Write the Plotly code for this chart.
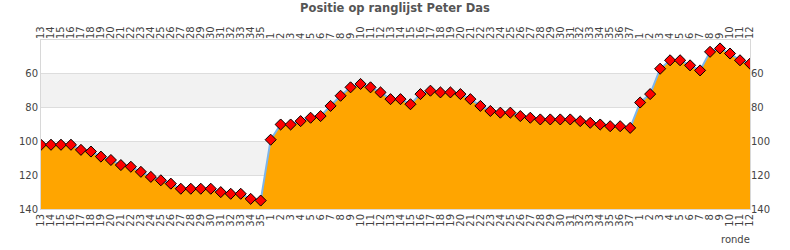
import plotly.graph_objects as go

season1_rounds = [str(i) for i in range(13, 36)]
season2_rounds = [str(i) for i in range(1, 38)]
season3_rounds = [str(i) for i in range(1, 13)]
season1_pos = [102, 102, 102, 102, 105, 106, 109, 111, 114, 115, 118, 121, 123, 125,
               128, 128, 128, 128, 130, 131, 131, 134, 135]
season2_pos = [99, 90, 90, 88, 86, 85, 79, 73, 68, 66, 68, 71, 75, 75, 78, 72, 70, 71,
               71, 72, 75, 79, 82, 83, 83, 85, 86, 87, 87, 87, 87, 88, 89, 90, 91, 91, 92]
season3_pos = [77, 72, 57, 52, 52, 55, 58, 47, 45, 48, 52, 54]
y_ticks = [60, 80, 100, 120, 140]

labels = season1_rounds + season2_rounds + season3_rounds
positions = season1_pos + season2_pos + season3_pos
xs = list(range(len(labels)))
y_min, y_max = 40, 140

font = dict(family="DejaVu Sans", size=10, color="#444")
fig = go.Figure()
fig.add_trace(go.Scatter(x=xs, y=[y_max] * len(xs), mode="lines",
                         line=dict(width=0), hoverinfo="skip", showlegend=False))
fig.add_trace(go.Scatter(x=xs, y=positions, mode="lines+markers", fill="tonexty",
                         fillcolor="#FFA500",
                         line=dict(color="#7cb5ec", width=2),
                         marker=dict(symbol="diamond", size=8.5, color="#FF0000",
                                     line=dict(color="#000", width=1)),
                         showlegend=False))
fig.add_trace(go.Scatter(x=xs, y=positions, xaxis="x2", yaxis="y2", mode="lines",
                         line=dict(width=0), opacity=0, hoverinfo="skip",
                         showlegend=False))

# alternating bands
for lo, hi in [(60, 80), (100, 120)]:
    fig.add_shape(type="rect", xref="paper", yref="y", x0=0, x1=1, y0=lo, y1=hi,
                  fillcolor="#f2f2f2", line=dict(width=0), layer="below")

xaxis_common = dict(tickmode="array", tickvals=xs, ticktext=labels, tickangle=-90,
                    range=[0, len(xs) - 1], showgrid=False, zeroline=False,
                    tickfont=font, ticks="")
fig.update_layout(
    width=790, height=250,
    margin=dict(l=41, r=40, t=40, b=41),
    paper_bgcolor="white", plot_bgcolor="white",
    title=dict(text="<b>Positie op ranglijst Peter Das</b>", x=0.5, xanchor="center",
               y=0.985, yanchor="top",
               font=dict(family="DejaVu Sans", size=11.5, color="#555")),
    xaxis=dict(**xaxis_common, side="bottom", showline=True, linecolor="#d8d8d8",
               mirror=True),
    xaxis2=dict(**xaxis_common, side="top", overlaying="x", matches="x"),
    yaxis=dict(range=[y_max, y_min], tickvals=y_ticks, showgrid=True,
               gridcolor="#dddddd", zeroline=False, tickfont=font,
               showline=True, linecolor="#d8d8d8", mirror=True),
    yaxis2=dict(range=[y_max, y_min], tickvals=y_ticks, overlaying="y", side="right",
                showgrid=False, zeroline=False, tickfont=font),
    annotations=[dict(text="ronde", xref="paper", yref="paper", x=1.0, y=0,
                      xanchor="right", yanchor="top", yshift=-23, xshift=2,
                      showarrow=False, font=font)],
)
fig.write_html("out.html")
